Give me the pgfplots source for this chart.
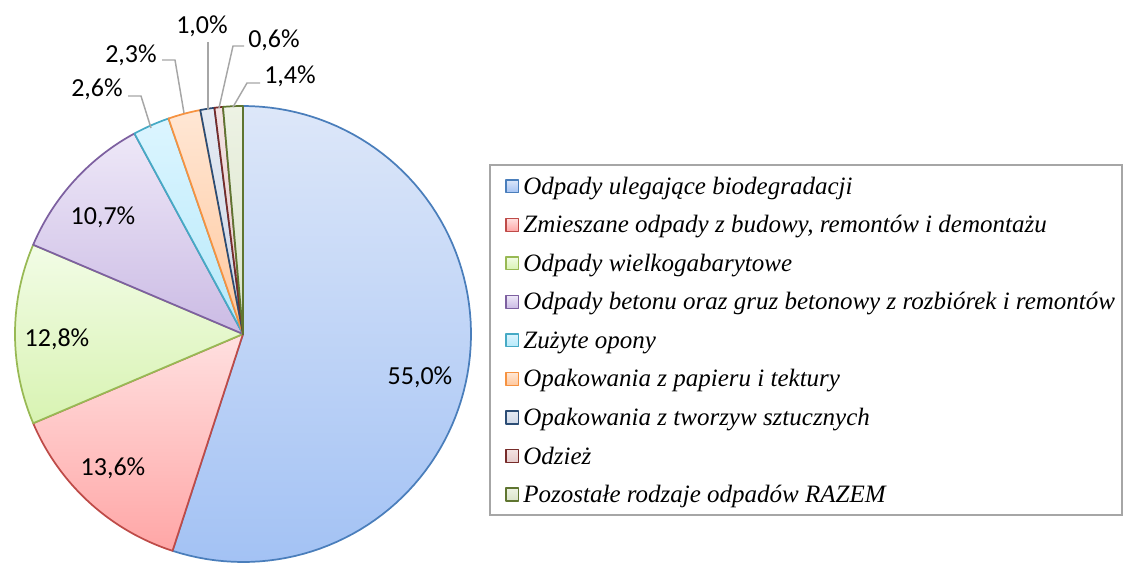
\documentclass[border=0pt]{standalone}
\usepackage{pgfplots}
\pgfplotsset{compat=1.18}
\usepackage{fontspec}
\setmainfont{Liberation Serif}
\newfontfamily\lab{Carlito}

\definecolor{bT}{HTML}{DDE7F9}\definecolor{bB}{HTML}{A3C2F4}\definecolor{bD}{HTML}{4A7EBB}
\definecolor{rT}{HTML}{FFE0E0}\definecolor{rB}{HTML}{FFA6A6}\definecolor{rD}{HTML}{BE4B48}
\definecolor{gT}{HTML}{F2FCE6}\definecolor{gB}{HTML}{D8F3B2}\definecolor{gD}{HTML}{98B954}
\definecolor{pT}{HTML}{EEE8F8}\definecolor{pB}{HTML}{CBBBE4}\definecolor{pD}{HTML}{7D60A0}
\definecolor{cT}{HTML}{DCF5FF}\definecolor{cB}{HTML}{B6E9FA}\definecolor{cD}{HTML}{46AAC5}
\definecolor{oT}{HTML}{FFE7D5}\definecolor{oB}{HTML}{FFC79C}\definecolor{oD}{HTML}{F69240}
\definecolor{nT}{HTML}{E4EAF3}\definecolor{nB}{HTML}{CFD8E7}\definecolor{nD}{HTML}{2C4D75}
\definecolor{mT}{HTML}{F3E3E3}\definecolor{mB}{HTML}{E6CACA}\definecolor{mD}{HTML}{772C2A}
\definecolor{vT}{HTML}{EDF2E4}\definecolor{vB}{HTML}{DAE4C9}\definecolor{vD}{HTML}{5F7530}
\definecolor{leadgray}{HTML}{A6A6A6}
\definecolor{framegray}{HTML}{A6A6A6}

\def\cx{243}\def\cy{228}\def\R{228}
\gdef\cum{0}
% #1 = percentage value, #2 top fill, #3 bottom fill, #4 border, #5 legend text
\newcommand\slice[5]{%
  \pgfmathsetmacro\sa{90-3.6*\cum}%
  \pgfmathsetmacro\newcum{\cum+#1}%
  \global\let\cum\newcum
  \pgfmathsetmacro\sb{90-3.6*\cum}%
  \edef\tmp{\noexpand\addplot[draw=#4, line width=1.3pt, line join=round,
     top color=#2, bottom color=#3, domain=\sb:\sa, samples=90]}%
  \tmp ({\cx+\R*cos(x)},{\cy+\R*sin(x)}) -- (axis cs:\cx,\cy) -- cycle;
  \addlegendentry{#5}%
}

\begin{document}
\begin{tikzpicture}
\begin{axis}[
  name=ax,
  width=842.25pt, height=421.5pt, scale only axis,
  xmin=0, xmax=1123, ymin=0, ymax=562,
  axis lines=none, clip=false,
  legend cell align=left,
  legend image code/.code={\draw[#1,line width=1pt] (0pt,-4.8pt) rectangle (9.6pt,4.8pt);},
  legend style={at={(axis cs:505,388)}, anchor=north west, draw=none, fill=none,
    inner sep=0pt, row sep=10.9pt,
    font=\itshape\fontsize{18.75}{20}\selectfont,
    nodes={inner ysep=0pt, inner xsep=3pt, text height=15pt, text depth=3pt}},
]
\draw[framegray, line width=1.2pt] (axis cs:490,397) rectangle (axis cs:1122,47);

\slice{55.0}{bT}{bB}{bD}{Odpady ulegające biodegradacji}
\slice{13.6}{rT}{rB}{rD}{Zmieszane odpady z budowy, remontów i demontażu}
\slice{12.8}{gT}{gB}{gD}{Odpady wielkogabarytowe}
\slice{10.7}{pT}{pB}{pD}{Odpady betonu oraz gruz betonowy z rozbiórek i remontów}
\slice{2.6}{cT}{cB}{cD}{Zużyte opony}
\slice{2.3}{oT}{oB}{oD}{Opakowania z papieru i tektury}
\slice{1.0}{nT}{nB}{nD}{Opakowania z tworzyw sztucznych}
\slice{0.6}{mT}{mB}{mD}{Odzież}
\slice{1.4}{vT}{vB}{vD}{Pozostałe rodzaje odpadów RAZEM}

% leader lines
\draw[leadgray, line width=1.1pt] (axis cs:128,466) -- (axis cs:141,466) -- (axis cs:151,434);
\draw[leadgray, line width=1.1pt] (axis cs:162,502) -- (axis cs:175,502) -- (axis cs:184,449);
\draw[leadgray, line width=1.1pt] (axis cs:208,520) -- (axis cs:208,452);
\draw[leadgray, line width=1.1pt] (axis cs:244,516) -- (axis cs:233,516) -- (axis cs:219,454);
\draw[leadgray, line width=1.1pt] (axis cs:260,479) -- (axis cs:247,479) -- (axis cs:233,455);

% data labels
\begin{scope}[every node/.style={font=\lab\fontsize{19.5}{21}\selectfont, inner sep=0pt}]
\node at (axis cs:420,185) {55,0\%};
\node at (axis cs:113,94) {13,6\%};
\node at (axis cs:57,223) {12,8\%};
\node at (axis cs:103,345) {10,7\%};
\node at (axis cs:97,473) {2,6\%};
\node at (axis cs:131,507) {2,3\%};
\node at (axis cs:202,536) {1,0\%};
\node at (axis cs:274,522) {0,6\%};
\node at (axis cs:290,486) {1,4\%};
\end{scope}
\end{axis}
\pgfresetboundingbox
\useasboundingbox (ax.south west) rectangle (ax.north east);
\end{tikzpicture}
\end{document}
